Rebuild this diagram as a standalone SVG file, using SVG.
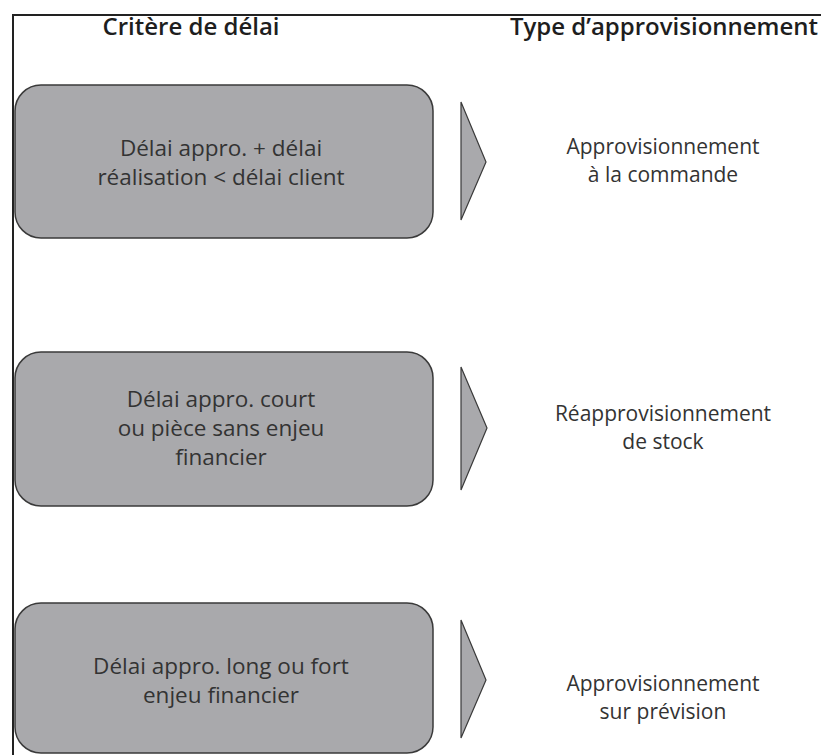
<svg xmlns="http://www.w3.org/2000/svg" width="821" height="755" viewBox="0 0 821 755">
  <style>
    .frame { fill: none; stroke: #222; stroke-width: 2; }
    .box { fill: #a9a9ac; stroke: #3a3a3a; stroke-width: 1.5; }
    .chev { fill: #a9a9ac; stroke: #3a3a3a; stroke-width: 1.2; stroke-linejoin: miter; }
    .head { font-family: "Open Sans", "Noto Sans", sans-serif; font-size: 24px; font-weight: 600; fill: #1e1e1e; text-anchor: middle; }
    .lbl { font-family: "Open Sans", "Noto Sans", sans-serif; font-size: 22.5px; fill: #333; text-anchor: middle; }
    .typ { font-family: "Open Sans", "Noto Sans", sans-serif; font-size: 21px; fill: #333; text-anchor: middle; }
  </style>
  <rect width="821" height="755" fill="#fff"/>
  <!-- outer frame: top and left rules -->
  <path class="frame" d="M13 755 V15 H821"/>

  <g id="headers">
    <text class="head" x="191" y="35">Critère de délai</text>
    <text class="head" x="664" y="35">Type d’approvisionnement</text>
  </g>

  <g id="crit1">
    <rect class="box" x="15" y="85" width="418" height="153" rx="26" ry="26"/>
    <text class="lbl" x="221" y="156">Délai appro. + délai</text>
    <text class="lbl" x="221" y="185">réalisation &lt; délai client</text>
  </g>
  <g id="crit2">
    <rect class="box" x="15" y="352" width="418" height="154" rx="26" ry="26"/>
    <text class="lbl" x="221" y="407">Délai appro. court</text>
    <text class="lbl" x="221" y="436">ou pièce sans enjeu</text>
    <text class="lbl" x="221" y="465">financier</text>
  </g>
  <g id="crit3">
    <rect class="box" x="15" y="603" width="418" height="150" rx="26" ry="26"/>
    <text class="lbl" x="221" y="674">Délai appro. long ou fort</text>
    <text class="lbl" x="221" y="703">enjeu financier</text>
  </g>

  <g id="connectors">
    <polygon class="chev" points="461,102 486,162 461,220"/>
    <polygon class="chev" points="461,367 487,428 461,490"/>
    <polygon class="chev" points="461,620 486,680 461,738"/>
  </g>

  <g id="type1">
    <text class="typ" x="663" y="154">Approvisionnement</text>
    <text class="typ" x="663" y="182">à la commande</text>
  </g>
  <g id="type2">
    <text class="typ" x="663" y="421">Réapprovisionnement</text>
    <text class="typ" x="663" y="449">de stock</text>
  </g>
  <g id="type3">
    <text class="typ" x="663" y="691">Approvisionnement</text>
    <text class="typ" x="663" y="719">sur prévision</text>
  </g>
</svg>
